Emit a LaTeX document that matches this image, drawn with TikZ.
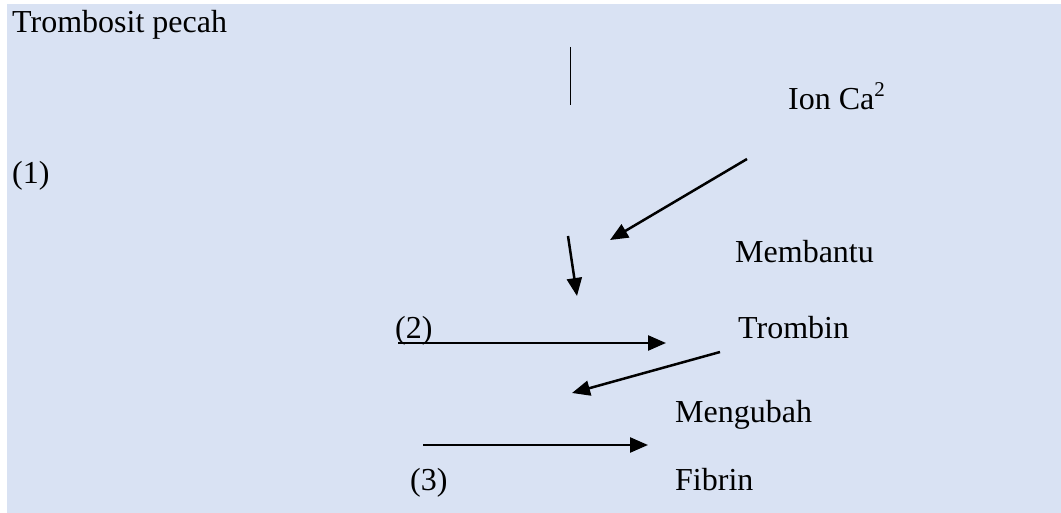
\documentclass[tikz,border=0pt]{standalone}
\usepackage{fontspec}
\setmainfont{Liberation Serif}
\usetikzlibrary{arrows.meta}
\definecolor{bgblue}{RGB}{217,226,243}
\begin{document}
\begin{tikzpicture}[x=1pt,y=1pt,
  lbl/.style={anchor=base west,inner sep=0pt,font=\fontsize{32}{38}\selectfont},
  arr/.style={line width=2.5pt,-{Triangle[length=18pt,width=15pt]}}]
\useasboundingbox (0,0) rectangle (1061,-513);
\fill[bgblue] (7,-4) rectangle (1061,-513);
\node[lbl] (tp) at (12,-33) {Trombosit pecah};
\node[lbl] (n1) at (12,-184) {(1)};
\node[lbl] (ion) at (788,-110) {Ion Ca\raisebox{13pt}{\fontsize{21}{21}\selectfont 2}};
\node[lbl] (mb) at (735,-263) {Membantu};
\node[lbl] (n2) at (395,-338) {(2)};
\node[lbl] (tr) at (738,-338) {Trombin};
\node[lbl] (mg) at (675,-422) {Mengubah};
\node[lbl] (n3) at (410,-490) {(3)};
\node[lbl] (fb) at (675,-490) {Fibrin};
\coordinate (v1) at (570,-47);
\coordinate (v2) at (570,-105);
\coordinate (a1s) at (747,-159);
\coordinate (a1e) at (610,-240);
\coordinate (a2s) at (568,-236);
\coordinate (a2e) at (577,-296);
\coordinate (a3s) at (398,-343);
\coordinate (a3e) at (666,-343);
\coordinate (a4s) at (720,-352);
\coordinate (a4e) at (572,-393);
\coordinate (a5s) at (423,-445);
\coordinate (a5e) at (648,-445);
\draw[line width=1pt] (v1) -- (v2);
\draw[arr] (a1s) -- (a1e);
\draw[arr] (a2s) -- (a2e);
\draw[arr] (a3s) -- (a3e);
\draw[arr] (a4s) -- (a4e);
\draw[arr] (a5s) -- (a5e);
\end{tikzpicture}
\end{document}
